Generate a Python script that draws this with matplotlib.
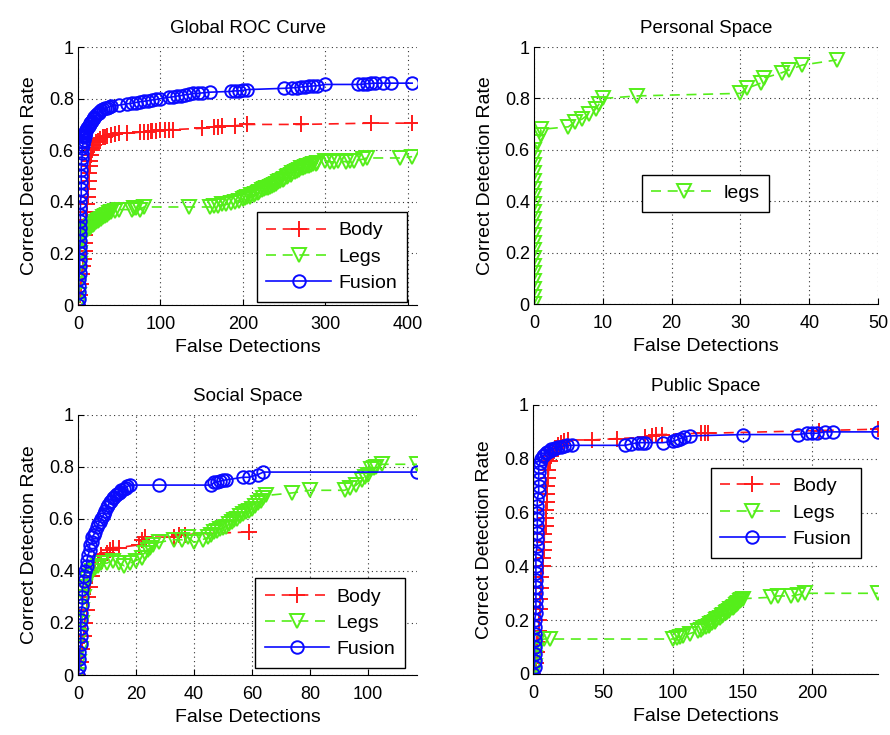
import matplotlib
matplotlib.use("Agg")
import matplotlib.pyplot as plt

plt.rcParams['font.family'] = ['Liberation Sans', 'DejaVu Sans']

# ---- data (false detections, correct detection rate) ----
global_body = [(0, 0), (2, 0.04), (4, 0.08), (5, 0.12), (6, 0.15), (7, 0.18), (8, 0.21), (9, 0.24),
               (9, 0.27), (10, 0.3), (10, 0.33), (11, 0.36), (11, 0.39), (12, 0.42), (12, 0.45),
               (13, 0.48), (13, 0.51), (14, 0.54), (15, 0.56), (16, 0.58), (17, 0.6), (18, 0.61),
               (20, 0.62), (22, 0.63), (24, 0.635), (27, 0.645), (30, 0.65), (33, 0.652), (35, 0.655),
               (40, 0.66), (45, 0.662), (50, 0.665), (60, 0.665), (75, 0.67), (80, 0.67), (85, 0.672),
               (88, 0.674), (90, 0.675), (95, 0.675), (100, 0.677), (105, 0.678), (110, 0.68),
               (115, 0.68), (150, 0.685), (165, 0.69), (170, 0.69), (175, 0.692), (190, 0.695),
               (205, 0.70), (270, 0.70), (355, 0.705), (405, 0.705)]
global_legs = [(0, 0), (1, 0.04), (1, 0.08), (1, 0.12), (2, 0.16), (2, 0.2), (3, 0.24), (4, 0.26),
               (5, 0.27), (6, 0.28), (8, 0.285), (10, 0.29), (12, 0.295), (14, 0.30), (16, 0.305),
               (18, 0.31), (20, 0.315), (22, 0.32), (24, 0.325), (26, 0.33), (28, 0.335), (30, 0.34),
               (33, 0.345), (35, 0.35), (38, 0.355), (40, 0.36), (45, 0.365), (50, 0.37), (65, 0.37),
               (68, 0.375), (70, 0.375), (75, 0.37), (80, 0.38), (135, 0.38), (160, 0.38), (165, 0.382),
               (170, 0.385), (175, 0.39), (180, 0.39), (185, 0.395), (190, 0.40), (195, 0.405),
               (200, 0.41), (203, 0.415), (205, 0.42), (208, 0.42), (210, 0.425), (213, 0.428),
               (215, 0.43), (218, 0.435), (220, 0.44), (223, 0.445), (225, 0.45), (228, 0.452),
               (230, 0.455), (233, 0.458), (235, 0.46), (238, 0.465), (240, 0.47), (243, 0.475),
               (245, 0.48), (248, 0.485), (250, 0.49), (253, 0.495), (255, 0.50), (258, 0.505),
               (260, 0.51), (263, 0.515), (265, 0.52), (268, 0.525), (270, 0.53), (273, 0.532),
               (275, 0.535), (278, 0.538), (280, 0.54), (283, 0.543), (285, 0.545), (288, 0.548),
               (290, 0.55), (300, 0.56), (305, 0.555), (310, 0.555), (315, 0.56), (325, 0.555),
               (330, 0.558), (335, 0.56), (345, 0.565), (350, 0.57), (390, 0.57), (405, 0.575)]
global_fusion = [(0, 0), (1, 0.025), (1, 0.05), (1, 0.075), (1, 0.1), (2, 0.125), (2, 0.15), (2, 0.175),
                 (2, 0.2), (2, 0.225), (3, 0.25), (3, 0.275), (3, 0.3), (3, 0.325), (3, 0.35), (3, 0.375),
                 (3, 0.4), (4, 0.425), (4, 0.45), (4, 0.475), (4, 0.5), (4, 0.525), (4, 0.55), (5, 0.57),
                 (5, 0.59), (5, 0.61), (6, 0.62), (6, 0.63), (7, 0.64), (7, 0.65), (8, 0.655), (8, 0.66),
                 (9, 0.665), (9, 0.67), (10, 0.675), (10, 0.68), (11, 0.685), (12, 0.69), (13, 0.695),
                 (14, 0.70), (15, 0.705), (16, 0.71), (17, 0.715), (18, 0.72), (19, 0.725), (20, 0.73),
                 (22, 0.735), (23, 0.74), (25, 0.745), (26, 0.75), (28, 0.755), (30, 0.76), (33, 0.762),
                 (35, 0.765), (38, 0.768), (40, 0.77), (50, 0.775), (60, 0.78), (65, 0.782), (70, 0.785),
                 (75, 0.788), (80, 0.79), (85, 0.792), (90, 0.795), (95, 0.797), (100, 0.80), (110, 0.805),
                 (115, 0.807), (120, 0.81), (125, 0.812), (130, 0.815), (135, 0.817), (140, 0.82),
                 (145, 0.82), (150, 0.822), (160, 0.825), (185, 0.828), (190, 0.83), (195, 0.83),
                 (200, 0.832), (205, 0.835), (250, 0.84), (260, 0.842), (265, 0.843), (270, 0.845),
                 (275, 0.846), (280, 0.848), (285, 0.849), (290, 0.85), (300, 0.855), (340, 0.855),
                 (345, 0.856), (350, 0.858), (355, 0.859), (360, 0.86), (370, 0.86), (380, 0.86),
                 (405, 0.86)]

personal_legs = [(0, 0), (0, 0.03), (0, 0.06), (0, 0.09), (0, 0.12), (0, 0.15), (0, 0.18), (0, 0.21),
                 (0, 0.24), (0, 0.27), (0, 0.30), (0, 0.33), (0, 0.36), (0, 0.39), (0, 0.42), (0, 0.45),
                 (0, 0.48), (0, 0.51), (0, 0.54), (0, 0.57), (0, 0.60), (0.5, 0.63), (1, 0.66), (1, 0.68),
                 (5, 0.69), (6, 0.71), (7, 0.72), (8, 0.74), (9, 0.76), (9.5, 0.78), (10, 0.80),
                 (15, 0.81), (30, 0.82), (31, 0.84), (33, 0.86), (33.5, 0.88), (36, 0.90), (37, 0.91),
                 (39, 0.93), (44, 0.95)]

social_body = [(0, 0), (1, 0.05), (1.5, 0.1), (2, 0.15), (2.5, 0.2), (3, 0.25), (3.5, 0.3), (4, 0.34),
               (5, 0.38), (6, 0.41), (7, 0.44), (8, 0.46), (10, 0.47), (11, 0.48), (12, 0.49), (14, 0.49),
               (21, 0.50), (22, 0.52), (23, 0.53), (33, 0.53), (35, 0.54), (37, 0.54), (59, 0.55)]
social_legs = [(0, 0), (0.5, 0.05), (1, 0.1), (1, 0.15), (1.5, 0.2), (1.5, 0.25), (2, 0.3), (2.5, 0.34),
               (3, 0.37), (4, 0.38), (5, 0.40), (6, 0.41), (7, 0.42), (8, 0.43), (10, 0.43), (12, 0.44),
               (14, 0.43), (16, 0.42), (18, 0.43), (20, 0.44), (22, 0.45), (23, 0.47), (24, 0.48),
               (25, 0.49), (26, 0.50), (28, 0.51), (33, 0.52), (36, 0.52), (38, 0.53), (40, 0.51),
               (43, 0.52), (45, 0.53), (46, 0.54), (47, 0.55), (48, 0.555), (49, 0.56), (50, 0.565),
               (51, 0.57), (52, 0.58), (53, 0.59), (54, 0.595), (55, 0.60), (56, 0.61), (57, 0.62),
               (58, 0.625), (59, 0.63), (60, 0.64), (61, 0.65), (62, 0.66), (63, 0.67), (64, 0.68),
               (65, 0.69), (74, 0.70), (80, 0.71), (92, 0.71), (94, 0.72), (96, 0.73), (98, 0.75),
               (99, 0.76), (100, 0.77), (101, 0.79), (102, 0.795), (103, 0.80), (105, 0.81), (117, 0.81)]
social_fusion = [(0, 0), (0.5, 0.03), (0.5, 0.06), (0.5, 0.09), (1, 0.12), (1, 0.15), (1, 0.18), (1, 0.21),
                 (1, 0.24), (1.5, 0.27), (1.5, 0.30), (1.5, 0.33), (2, 0.36), (2, 0.38), (2.5, 0.40),
                 (3, 0.42), (3, 0.44), (3.5, 0.46), (4, 0.48), (4, 0.5), (5, 0.51), (5, 0.53), (5.5, 0.54),
                 (6, 0.55), (6.5, 0.57), (7, 0.58), (7.5, 0.59), (8, 0.6), (8.5, 0.61), (9, 0.62),
                 (9.5, 0.63), (10, 0.645), (10.5, 0.655), (11, 0.665), (11.5, 0.67), (12, 0.68),
                 (12.5, 0.685), (13, 0.69), (13.5, 0.695), (14, 0.70), (14.5, 0.705), (15, 0.71),
                 (16, 0.715), (16.5, 0.72), (17, 0.725), (18, 0.73), (28, 0.73), (46, 0.73), (47, 0.74),
                 (48, 0.742), (49, 0.745), (50, 0.748), (51, 0.75), (57, 0.76), (59, 0.76), (62, 0.77),
                 (64, 0.78), (117, 0.78)]

public_body = [(0, 0), (2, 0.04), (3, 0.08), (3, 0.12), (4, 0.16), (4, 0.2), (5, 0.24), (5, 0.28),
               (6, 0.32), (6, 0.36), (7, 0.4), (7, 0.43), (8, 0.46), (8, 0.49), (8, 0.52), (9, 0.55),
               (9, 0.58), (9, 0.61), (10, 0.64), (10, 0.67), (10, 0.7), (11, 0.73), (11, 0.76), (12, 0.79),
               (13, 0.81), (14, 0.82), (15, 0.83), (16, 0.84), (18, 0.85), (20, 0.86), (22, 0.865),
               (25, 0.87), (42, 0.87), (60, 0.875), (80, 0.88), (85, 0.885), (88, 0.89), (92, 0.89),
               (120, 0.895), (123, 0.895), (125, 0.895), (205, 0.905), (247, 0.91)]
public_legs = [(0, 0), (1, 0.03), (1, 0.06), (2, 0.09), (3, 0.12), (8, 0.13), (12, 0.13), (100, 0.13),
               (103, 0.135), (105, 0.138), (107, 0.14), (112, 0.15), (118, 0.16), (120, 0.165),
               (122, 0.17), (124, 0.175), (126, 0.18), (127, 0.185), (128, 0.19), (130, 0.195),
               (131, 0.20), (132, 0.205), (134, 0.21), (135, 0.215), (136, 0.22), (138, 0.225),
               (139, 0.23), (140, 0.235), (141, 0.24), (143, 0.245), (144, 0.25), (145, 0.255),
               (146, 0.26), (147, 0.265), (148, 0.27), (149, 0.275), (150, 0.28), (170, 0.285),
               (175, 0.29), (185, 0.29), (190, 0.295), (195, 0.30), (247, 0.30)]
public_fusion = [(0, 0), (1, 0.025), (1, 0.05), (1, 0.075), (1, 0.1), (1, 0.125), (1, 0.15), (1, 0.175),
                 (1, 0.2), (2, 0.225), (2, 0.25), (2, 0.275), (2, 0.3), (2, 0.325), (2, 0.35), (2, 0.375),
                 (2, 0.4), (2, 0.425), (2, 0.45), (3, 0.475), (3, 0.5), (3, 0.525), (3, 0.55), (3, 0.575),
                 (3, 0.6), (3, 0.625), (3, 0.65), (4, 0.675), (4, 0.7), (4, 0.725), (4, 0.75), (4, 0.77),
                 (5, 0.785), (6, 0.8), (7, 0.81), (8, 0.815), (9, 0.82), (10, 0.825), (12, 0.83),
                 (13, 0.835), (15, 0.838), (16, 0.84), (18, 0.842), (20, 0.845), (22, 0.848), (24, 0.85),
                 (28, 0.85), (66, 0.85), (70, 0.855), (75, 0.86), (78, 0.86), (80, 0.86), (93, 0.86),
                 (100, 0.865), (102, 0.868), (103, 0.87), (105, 0.875), (108, 0.88), (112, 0.885),
                 (150, 0.89), (190, 0.89), (196, 0.895), (200, 0.895), (203, 0.895), (209, 0.90),
                 (215, 0.90), (247, 0.90)]

RED = '#ff1a1a'
GREEN = '#55ee1a'
BLUE = '#0a0aff'
FS = 13

styles = {
    'body': dict(color=RED, ls=(0, (6, 4)), marker='+', ms=11, mew=1.4),
    'legs': dict(color=GREEN, ls=(0, (6, 4)), marker='v', ms=10, mew=1.4, mfc='none'),
    'fusion': dict(color=BLUE, ls='-', marker='o', ms=9, mew=1.4, mfc='none'),
}


def draw(ax, series, title, xlim, xticks, legend_kw):
    for label, key, pts in series:
        xs = [p[0] for p in pts]
        ys = [p[1] for p in pts]
        ax.plot(xs, ys, lw=1.2, label=label, **styles[key])
    ax.set_xlim(*xlim)
    ax.set_ylim(0, 1)
    ax.set_xticks(xticks)
    ax.set_yticks([0, 0.2, 0.4, 0.6, 0.8, 1])
    ax.set_yticklabels(['0', '0.2', '0.4', '0.6', '0.8', '1'])
    ax.grid(True, color='k', ls=(0, (1, 3)), lw=0.8, alpha=0.8)
    ax.tick_params(direction='in', labelsize=FS, length=4, pad=8, top=False, right=False)
    ax.tick_params(axis='y', pad=3)
    for s in ['top', 'right']:
        ax.spines[s].set_visible(False)
    ax.set_title(title, fontsize=FS + 0.5, pad=10)
    ax.set_xlabel('False Detections', fontsize=FS + 1, labelpad=4)
    ax.set_ylabel('Correct Detection Rate', fontsize=FS + 1, labelpad=8)
    leg = ax.legend(fontsize=FS + 1, fancybox=False, edgecolor='k', framealpha=1, borderaxespad=0,
                    handlelength=3.3, handletextpad=0.4, borderpad=0.5, labelspacing=0.45, **legend_kw)
    leg.get_frame().set_linewidth(1.0)


fig = plt.figure(figsize=(8.9, 7.35), dpi=100)
ax1 = fig.add_axes([0.0876, 0.585, 0.381, 0.351])
ax2 = fig.add_axes([0.600, 0.586, 0.3865, 0.350])
ax3 = fig.add_axes([0.0876, 0.0816, 0.381, 0.354])
ax4 = fig.add_axes([0.599, 0.083, 0.3876, 0.366])

draw(ax1, [('Body', 'body', global_body), ('Legs', 'legs', global_legs),
           ('Fusion', 'fusion', global_fusion)],
     'Global ROC Curve', (0, 411), [0, 100, 200, 300, 400],
     dict(loc='lower right', bbox_to_anchor=(0.97, 0.012)))
draw(ax2, [('legs', 'legs', personal_legs)],
     'Personal Space', (0, 50), [0, 10, 20, 30, 40, 50],
     dict(loc='center', bbox_to_anchor=(0.4985, 0.432)))
draw(ax3, [('Body', 'body', social_body), ('Legs', 'legs', social_legs),
           ('Fusion', 'fusion', social_fusion)],
     'Social Space', (0, 117), [0, 20, 40, 60, 80, 100],
     dict(loc='lower right', bbox_to_anchor=(0.965, 0.027)))
draw(ax4, [('Body', 'body', public_body), ('Legs', 'legs', public_legs),
           ('Fusion', 'fusion', public_fusion)],
     'Public Space', (0, 247), [0, 50, 100, 150, 200],
     dict(loc='upper right', bbox_to_anchor=(0.95, 0.766)))

fig.savefig('out.png', dpi=100)
